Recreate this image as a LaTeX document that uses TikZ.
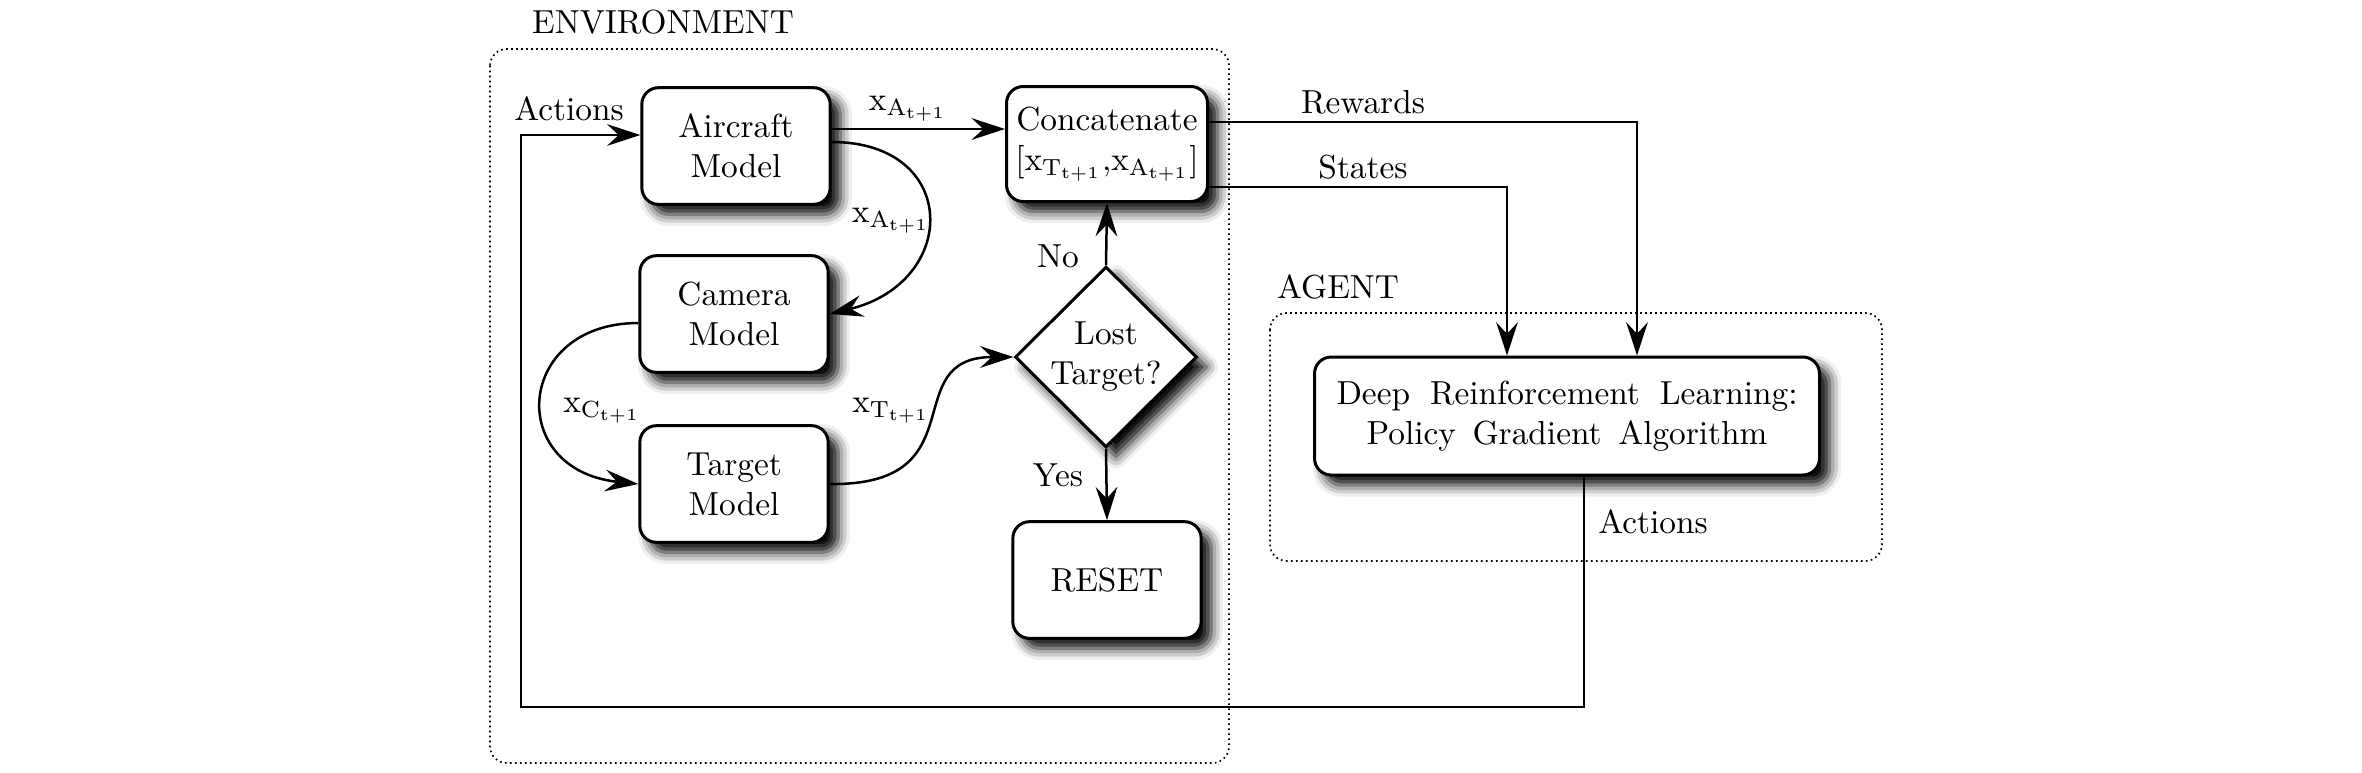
\documentclass[tikz,border=0pt]{standalone}
\usetikzlibrary{arrows.meta,shapes.geometric,shadows.blur}
\begin{document}
\begin{tikzpicture}[x=0.3pt,y=-0.3pt,
  shad/.style={blur shadow={shadow xshift=3pt,shadow yshift=-3pt,shadow blur radius=3.5pt,shadow opacity=100}},
  box/.style={draw,line width=0.9pt,rounded corners=5pt,fill=white,align=center,inner sep=2pt,
    minimum width=56.5pt,minimum height=35pt,shad},
  dia/.style={draw,line width=0.9pt,diamond,aspect=1,fill=white,align=center,inner sep=0pt,
    minimum width=54.6pt,minimum height=54pt,shad},
  frame/.style={densely dotted,line width=0.5pt,rounded corners=5pt},
  arr/.style={-{Stealth[length=10pt,width=6.5pt,inset=3.5pt]},line width=0.75pt},
  lbl/.style={anchor=base,inner sep=0pt}]
\useasboundingbox (0,0) rectangle (2362,772);

% frames
\draw[frame] (490,49) rectangle (1229,763);
\draw[frame] (1270,313) rectangle (1882,561);
\node[lbl] (envlbl) at (663,33) {ENVIRONMENT};
\node[lbl] (agentlbl) at (1338,298) {AGENT};

% helper coordinates
\coordinate (yA) at (0,129);
\coordinate (yL) at (0,135);
\coordinate (yR) at (0,122);
\coordinate (yS) at (0,187);
\coordinate (xR) at (1637,0);
\coordinate (xS) at (1507,0);
\coordinate (xAct) at (1584,0);
\coordinate (loopcorner) at (521,707);
\coordinate (yC) at (0,142);

% nodes
\node[box] (drl) at (1567,416) [minimum width=151.5pt,minimum height=35.4pt]
  {Deep\hspace{6pt}Reinforcement\hspace{6pt}Learning:\\Policy\hspace{5pt}Gradient\hspace{5pt}Algorithm};
\node[box] (aircraft) at (736,146) {Aircraft\\Model};
\node[box] (camera) at (734,314) {Camera\\Model};
\node[box] (target) at (734,484) {Target\\Model};
\node[box] (concat) at (1107,144) [minimum width=60.3pt,minimum height=34.5pt]
  {Concatenate\\{}[$\mathrm{x}_{\mathrm{T}_{\mathrm{t+1}}}$,$\mathrm{x}_{\mathrm{A}_{\mathrm{t+1}}}$]};
\node[dia] (lost) at (1106,357) {Lost\\Target?};
\node[box] (reset) at (1107,580) {RESET};

% connectors
\draw[arr] (drl.south -| xAct) |- (loopcorner) |- (aircraft.west |- yL);
\draw[arr] (aircraft.east |- yA) -- (concat.west |- yA);
\draw[arr] (aircraft.east |- yC) .. controls (960,142) and (960,282) .. (camera.east);
\draw[arr] ([yshift=-2.7pt]camera.west) .. controls (515,323) and (505,470) .. (target.west);
\draw[arr] (target.east) .. controls (980,486) and (895,357) .. (lost.west);
\draw[arr] (lost.north) -- (concat.south);
\draw[arr] (lost.south) -- (reset.north);
\draw[arr] (concat.east |- yR) -| (drl.north -| xR);
\draw[arr] (concat.east |- yS) -| (drl.north -| xS);

% labels
\node[lbl] (actl) at (569,120) {Actions};
\node[lbl] (xa1) at (908,110) {$\mathrm{x}_{\mathrm{A}_{\mathrm{t+1}}}$};
\node[lbl] (xa2) at (891,222) {$\mathrm{x}_{\mathrm{A}_{\mathrm{t+1}}}$};
\node[lbl] (xc) at (602,412) {$\mathrm{x}_{\mathrm{C}_{\mathrm{t+1}}}$};
\node[lbl] (xt) at (891,412) {$\mathrm{x}_{\mathrm{T}_{\mathrm{t+1}}}$};
\node[lbl] (nol) at (1058,267) {No};
\node[lbl] (yesl) at (1058,486) {Yes};
\node[lbl] (rew) at (1363,113) {Rewards};
\node[lbl] (sta) at (1363,178) {States};
\node[lbl] (actr) at (1653,533) {Actions};
\end{tikzpicture}
\end{document}
